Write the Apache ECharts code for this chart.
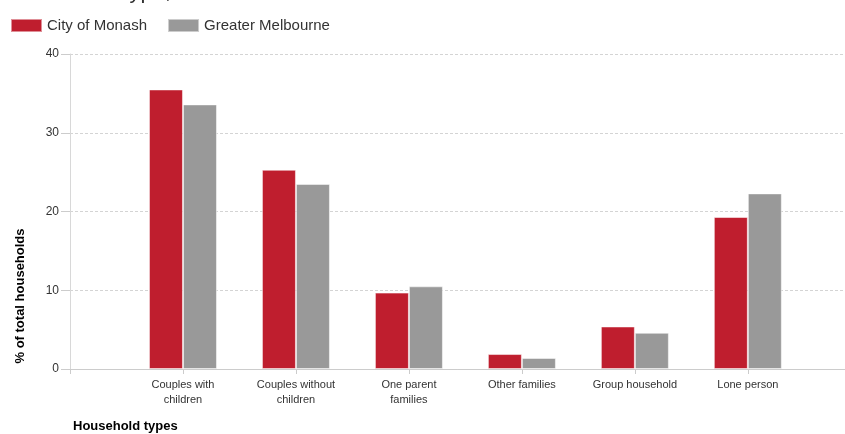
<!DOCTYPE html>
<html>
<head>
<meta charset="utf-8">
<style>
  html, body { margin: 0; padding: 0; background: #fff; }
  #chart { width: 845px; height: 434px; }
</style>
<script src="https://cdn.jsdelivr.net/npm/echarts@6/dist/echarts.min.js"></script>
</head>
<body>
<div id="chart"></div>
<script>
// household types (x axis)
const categories = [
  'Couples with\nchildren',
  'Couples without\nchildren',
  'One parent\nfamilies',
  'Other families',
  'Group household',
  'Lone person'
]
// % of total households
const monash = [35.5, 25.3, 9.7, 1.9, 5.4, 19.3]
const melbourne = [33.6, 23.5, 10.5, 1.4, 4.6, 22.3]
const yTicks = [0, 10, 20, 30, 40]

const chart = echarts.init(document.getElementById('chart'))

const toPoints = arr => arr.map((v, i) => [i, v])

const option = {
  animation: false,
  textStyle: { fontFamily: 'Arial, "Liberation Sans", sans-serif' },
  title: {
    text: 'Household type, 2011',
    left: 7,
    top: -24,
    textStyle: { fontSize: 22, fontWeight: 'normal', color: '#333' }
  },
  legend: {
    left: 5,
    top: 13,
    icon: 'rect',
    itemWidth: 31,
    itemHeight: 13,
    itemGap: 20,
    textStyle: { fontSize: 15, color: '#333' },
    data: ['City of Monash', 'Greater Melbourne']
  },
  grid: {
    left: 70,
    right: 0,
    top: 54,
    bottom: 65
  },
  xAxis: {
    type: 'value',
    min: -1,
    max: 5.86,
    interval: 1,
    axisLine: { show: true, onZero: false, lineStyle: { color: '#ccc' } },
    axisTick: { show: true, length: 5, lineStyle: { color: '#ccc' } },
    splitLine: { show: false },
    axisLabel: {
      margin: 8,
      color: '#333',
      fontSize: 11,
      lineHeight: 15,
      showMaxLabel: false,
      formatter: v => categories[v] || ''
    }
  },
  yAxis: {
    type: 'value',
    min: yTicks[0],
    max: yTicks[yTicks.length - 1],
    interval: 10,
    axisLine: { show: true, onZero: false, lineStyle: { color: '#d8d8d8' } },
    axisTick: { show: true, length: 9, lineStyle: { color: '#ccc' } },
    axisLabel: { color: '#333', fontSize: 12, margin: 11 },
    splitLine: { lineStyle: { color: '#d4d4d4', type: [3, 2] } }
  },
  graphic: [
    {
      type: 'text',
      left: 73,
      top: 420,
      style: {
        text: 'Household types',
        font: 'bold 13px Arial, "Liberation Sans", sans-serif',
        fill: '#000'
      }
    },
    {
      type: 'text',
      x: 20,
      y: 296,
      rotation: Math.PI / 2,
      style: {
        text: '% of total households',
        font: 'bold 13px Arial, "Liberation Sans", sans-serif',
        fill: '#000',
        align: 'center',
        verticalAlign: 'middle'
      }
    }
  ],
  series: [
    {
      name: 'City of Monash',
      type: 'bar',
      barWidth: 34,
      barGap: '0%',
      itemStyle: {
        color: '#BF1E2E',
        borderColor: 'rgba(255,255,255,0.5)',
        borderWidth: 1
      },
      data: toPoints(monash)
    },
    {
      name: 'Greater Melbourne',
      type: 'bar',
      barWidth: 34,
      barGap: '0%',
      itemStyle: {
        color: '#999999',
        borderColor: 'rgba(255,255,255,0.5)',
        borderWidth: 1
      },
      data: toPoints(melbourne)
    }
  ]
}

chart.setOption(option)
</script>
</body>
</html>
